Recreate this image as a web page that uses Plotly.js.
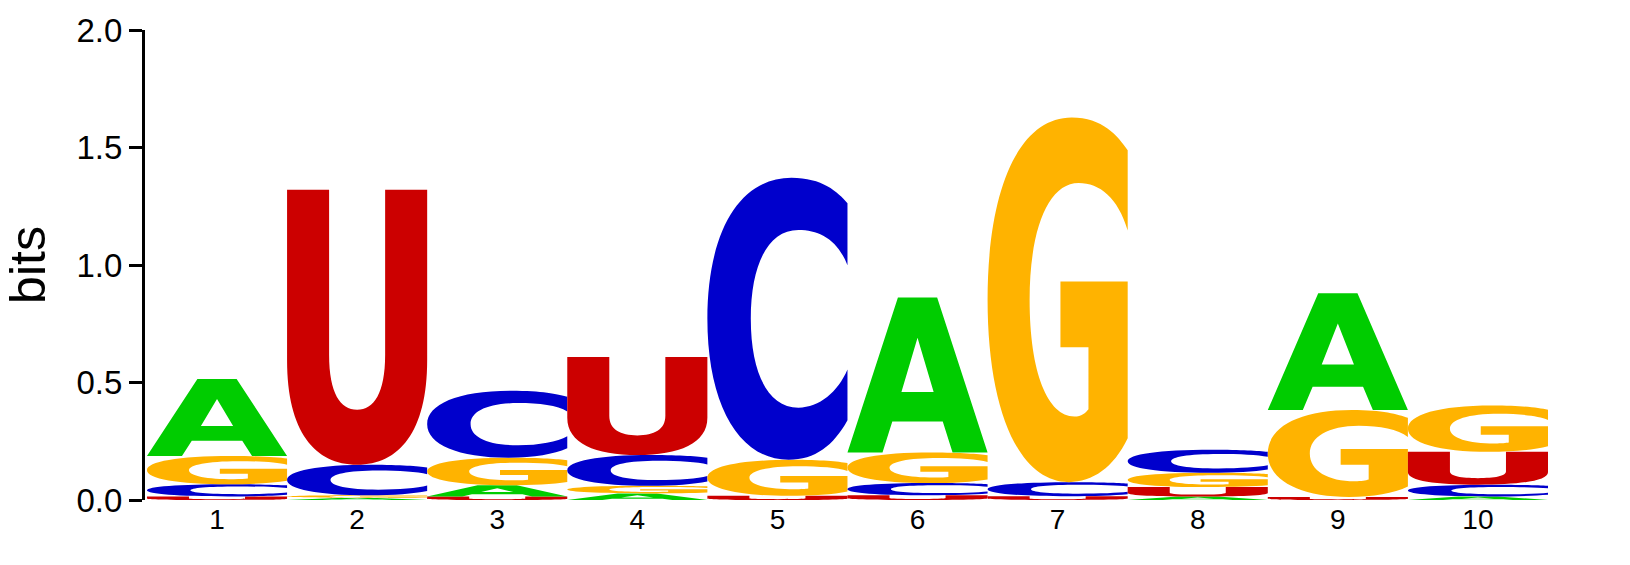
<!DOCTYPE html>
<html>
<head>
<meta charset="utf-8">
<meta name="viewport" content="width=device-width, initial-scale=1">
<script src="https://cdn.plot.ly/plotly-3.0.1.min.js"></script>
<style>
  html, body {margin:0; padding:0; background:#fff; overflow:hidden; width:100%; height:100%;}
  #logo {position:absolute; left:0; top:0; width:100vw; height:100vh;}
</style>
</head>
<body>
<div id="logo"></div>
<script>

// ---- Data (bits per letter at each position) ----
var positions = [1, 2, 3, 4, 5, 6, 7, 8, 9, 10]
var bitsA = [0.328, 0.009, 0.048, 0.028, 0.000, 0.660, 0.000, 0.015, 0.497, 0.015]
var bitsC = [0.052, 0.130, 0.285, 0.130, 1.200, 0.052, 0.060, 0.098, 0.000, 0.050]
var bitsG = [0.120, 0.011, 0.117, 0.033, 0.153, 0.130, 1.552, 0.061, 0.370, 0.197]
var bitsU = [0.015, 1.170, 0.015, 0.418, 0.018, 0.020, 0.016, 0.040, 0.013, 0.140]
var yTicks = [0, 0.5, 1.0, 1.5, 2.0]
var yTickText = ['0.0', '0.5', '1.0', '1.5', '2.0']

var letterColor = {A: '#00CC00', C: '#0000CC', G: '#FFB300', U: '#CC0000'}

// glyphs in a unit box, x 0..1 left->right, y 0..1 bottom->top
var glyphs = {
    A: 'M0,0 L0.36,1 L0.64,1 L1,0 L0.75,0 L0.68,0.2 L0.32,0.2 L0.25,0 Z ' +
       'M0.385,0.39 L0.615,0.39 L0.5,0.74 Z',
    C: 'M0.6,1 C0.82,1 0.93,0.95 1,0.91 L1,0.69 C0.93,0.78 0.8,0.815 0.65,0.815 ' +
       'C0.43,0.815 0.31,0.69 0.31,0.5 C0.31,0.31 0.43,0.185 0.65,0.185 ' +
       'C0.8,0.185 0.93,0.24 1,0.32 L1,0.14 C0.9,0.05 0.77,0 0.58,0 ' +
       'C0.22,0 0,0.2 0,0.5 C0,0.8 0.22,1 0.6,1 Z',
    G: 'M0.6,1 C0.82,1 0.93,0.95 1,0.91 L1,0.69 C0.93,0.78 0.8,0.82 0.65,0.82 ' +
       'C0.43,0.82 0.3,0.69 0.3,0.5 C0.3,0.3 0.43,0.18 0.62,0.18 ' +
       'C0.67,0.18 0.7,0.19 0.72,0.2 L0.72,0.37 L0.52,0.37 L0.52,0.55 L1,0.55 L1,0.12 ' +
       'C0.9,0.04 0.75,0 0.58,0 C0.22,0 0,0.2 0,0.5 C0,0.8 0.22,1 0.6,1 Z',
    U: 'M0,1 L0.3,1 L0.3,0.4 C0.3,0.26 0.38,0.2 0.5,0.2 C0.62,0.2 0.7,0.26 0.7,0.4 ' +
       'L0.7,1 L1,1 L1,0.38 C1,0.12 0.8,0 0.5,0 C0.2,0 0,0.12 0,0.38 Z'
}

// put a unit glyph into the box [x0,x0+w] x [y0,y0+h] in data coords
function placeGlyph(letter, x0, w, y0, h) {
    return glyphs[letter].replace(/(-?[\d.]+),(-?[\d.]+)/g, function (m, a, b) {
        var x = x0 + parseFloat(a) * w
        var y = y0 + parseFloat(b) * h
        return x.toFixed(4) + ',' + y.toFixed(5)
    })
}


// ---- Build the stacks ----
var shapes = []
var totals = []

for (var i = 0; i < positions.length; i++) {
    var col = [
        {l: 'A', v: bitsA[i]},
        {l: 'C', v: bitsC[i]},
        {l: 'G', v: bitsG[i]},
        {l: 'U', v: bitsU[i]},
    ]
    col.sort(function (a, b) { return a.v - b.v })  // smallest at the bottom

    var base = 0
    for (var j = 0; j < col.length; j++) {
        if (col[j].v <= 0) continue
        shapes.push({
            type: 'path',
            xref: 'x', yref: 'y',
            path: placeGlyph(col[j].l, positions[i] - 0.5, 1, base, col[j].v),
            fillcolor: letterColor[col[j].l],
            fillrule: 'evenodd',
            line: {width: 0},
            layer: 'above',
        })
        base += col[j].v
    }
    totals.push(base)
}

var data = [{
    x: positions,
    y: totals,
    type: 'scatter',
    mode: 'markers',
    marker: {opacity: 0},
    hoverinfo: 'skip',
    showlegend: false,
}]

var layout = {
    autosize: true,
    showlegend: false,
    paper_bgcolor: '#fff',
    plot_bgcolor: '#fff',
    font: {family: 'Liberation Sans, Arial, sans-serif', color: '#000'},
    margin: {l: 145, r: 82, t: 30, b: 65},
    xaxis: {
        range: [0.486, 10.5],
        tickvals: positions,
        ticktext: positions.map(String),
        showgrid: false,
        zeroline: false,
        showline: false,
        ticks: '',
        tickfont: {size: 28, color: '#000'},
        fixedrange: true,
    },
    yaxis: {
        range: [0, 2],
        tickvals: yTicks,
        ticktext: yTickText,
        showgrid: false,
        zeroline: false,
        showline: true,
        linecolor: '#000',
        linewidth: 3,
        ticks: 'outside',
        ticklen: 13,
        tickwidth: 3,
        tickcolor: '#000',
        tickfont: {size: 33, color: '#000'},
        title: {text: 'bits', font: {size: 50, color: '#000'}, standoff: 16},
        fixedrange: true,
    },
    shapes: shapes,
}

Plotly.newPlot('logo', data, layout, {displayModeBar: false, staticPlot: true, responsive: true})
</script>
</body>
</html>
